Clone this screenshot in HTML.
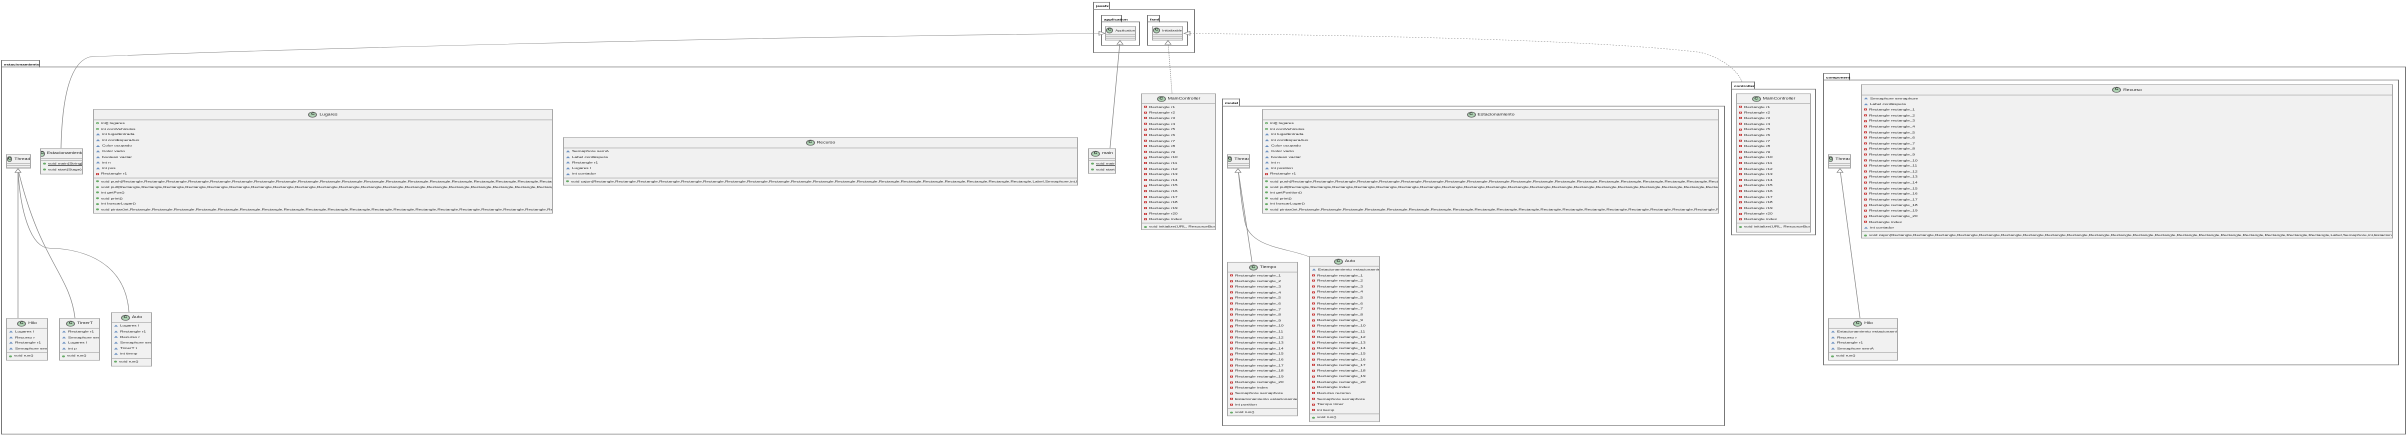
<!DOCTYPE html>
<html><head><meta charset="utf-8"><style>
html,body{margin:0;width:2407px;height:435px;background:#fff;overflow:hidden}
body{position:relative;font-family:"Liberation Sans",sans-serif}
#w{position:absolute;left:0;top:0;width:2407px;height:666px;transform:scaleY(0.6533);transform-origin:0 0}
.c{position:absolute;background:#f1f1f1;border:1px solid #a8a8a8;box-sizing:border-box;font-size:4.6px;color:#222;overflow:hidden}
.h{height:14px;display:flex;align-items:center;justify-content:center;border-bottom:1px solid #a8a8a8;font-size:5px;white-space:nowrap}
.h i{display:inline-block;width:7px;height:7px;border-radius:50%;background:#add1b2;border:0.6px solid #666;font:bold 5px "Liberation Sans",sans-serif;text-align:center;line-height:7px;margin-right:2px;font-style:normal;color:#222}
.s{border-bottom:1px solid #a8a8a8;padding:1px 2px 1px}
.s:last-child{border-bottom:none}
.s div{height:8.6px;line-height:8.6px;white-space:nowrap}
.e{height:2px;border-bottom:1px solid #a8a8a8}
b.a,b.p,b.g,b.o{display:inline-block;width:3px;height:3px;margin-right:2px;vertical-align:middle}
b.a{width:0;height:0;border-left:2px solid transparent;border-right:2px solid transparent;border-bottom:3px solid #6a8fc0}
b.p{border:0.6px solid #c83a3a;box-sizing:border-box}
b.g{background:#66aa66;border-radius:50%}
b.o{border:0.6px solid #66aa66;border-radius:50%;box-sizing:border-box}
.u{text-decoration:underline}
.pk{position:absolute;border:1.5px solid #777;box-sizing:border-box}
.tb{position:absolute;border:1px solid #777;border-bottom:none;box-sizing:border-box;font:bold 4.5px "Liberation Sans",sans-serif;padding:1px 2px;height:11px;line-height:9px;background:#fff}
</style></head><body><div id="w">

<div class="tb" style="left:1px;top:92px;width:39px">estacionamiento</div>
<div class="pk" style="left:1px;top:102px;width:2405px;height:563px"></div>
<div class="tb" style="left:1093px;top:3px;width:17px">javafx</div>
<div class="pk" style="left:1093px;top:14px;width:102px;height:67px"></div>
<div class="tb" style="left:1101px;top:23px;width:21px">application</div>
<div class="pk" style="left:1101px;top:33px;width:39px;height:37px"></div>
<div class="tb" style="left:1147px;top:23px;width:13px">fxml</div>
<div class="pk" style="left:1147px;top:33px;width:41px;height:37px"></div>
<div class="tb" style="left:1222px;top:151px;width:18px">model</div>
<div class="pk" style="left:1222px;top:162px;width:503px;height:490px"></div>
<div class="tb" style="left:1731px;top:125px;width:24px">controller</div>
<div class="pk" style="left:1731px;top:136px;width:85px;height:224px"></div>
<div class="tb" style="left:1823px;top:112px;width:27px">component</div>
<div class="pk" style="left:1823px;top:122px;width:576px;height:437px"></div>

<svg width="2407" height="670" style="position:absolute;left:0;top:0" fill="none">
<g stroke="#888" stroke-width="0.7">
<path d="M61 227 C62 150 70 95 90 87 C200 80 600 60 1102 51"/>
<path d="M1110 227 L1120 63"/>
<path d="M18 487 L18 259"/>
<path d="M75 487 C70 420 40 400 18 259"/>
<path d="M129 478 C125 390 70 380 50 380 C30 380 20 320 18 259"/>
<path d="M1252 401 L1238 259"/>
<path d="M1309 393 C1290 380 1250 380 1245 340 C1240 300 1240 280 1238 259"/>
<path d="M1860 487 L1840 259"/>
</g>
<g stroke="#888" stroke-width="0.7" stroke-dasharray="1.5,1.5">
<path d="M1172 143 L1168 63"/>
<path d="M1184 51 C1400 55 1600 62 1700 80 C1725 90 1738 110 1742 125"/>
</g>
<g fill="#fff" stroke="#777" stroke-width="0.7">
<path d="M1105 51 L1099 48 L1099 54 Z"/>
<path d="M1120 62 L1117 68 L1123 68 Z"/>
<path d="M1168 62 L1165 68 L1171 68 Z"/>
<path d="M1184 51 L1190 48 L1190 54 Z"/>
<path d="M18 258 L15 264 L21 264 Z"/>
<path d="M1238 258 L1235 264 L1241 264 Z"/>
<path d="M1840 258 L1837 264 L1843 264 Z"/>
</g>
</svg>

<div class="c" style="left:1105px;top:40px;width:31px;height:22px"><div class="h" style="height:11px;font-size:4px"><i>C</i>Application</div><div class="e"></div><div class="e"></div></div>
<div class="c" style="left:1152px;top:40px;width:31px;height:22px"><div class="h" style="height:11px;font-size:4px"><i>C</i>Initializable</div><div class="e"></div><div class="e"></div></div>

<div class="c" style="left:6px;top:236px;width:25px;height:22px"><div class="h" style="height:13px"><i>C</i>Thread</div><div class="e"></div><div class="e"></div></div>
<div class="c" style="left:40px;top:227px;width:43px;height:40px"><div class="h"><i>C</i>Estacionamiento</div><div class="e"></div><div class="s"><div><b class="g"></b><span class="u">void main(String[])</span></div><div><b class="g"></b>void start(Stage)</div></div></div>

<div class="c" style="left:93px;top:167px;width:460px;height:160px"><div class="h" style="height:15px"><i>C</i>Lugares</div>
<div class="s"><div><b class="o"></b>int[] lugares</div><div><b class="o"></b>int contVehiculos</div><div><b class="a"></b>int lugarEntrada</div><div><b class="a"></b>int contEsperaAux</div><div><b class="a"></b>Color ocupado</div><div><b class="a"></b>Color vacio</div><div><b class="a"></b>boolean vaciar</div><div><b class="a"></b>int n</div><div><b class="a"></b>int pos</div><div><b class="p"></b>Rectangle r1</div></div>
<div class="s"><div><b class="g"></b>void push(Rectangle,Rectangle,Rectangle,Rectangle,Rectangle,Rectangle,Rectangle,Rectangle,Rectangle,Rectangle,Rectangle,Rectangle,Rectangle,Rectangle,Rectangle,Rectangle,Rectangle,Rectangle,Rectangle,Rectangle)</div><div><b class="g"></b>void pull(Rectangle,Rectangle,Rectangle,Rectangle,Rectangle,Rectangle,Rectangle,Rectangle,Rectangle,Rectangle,Rectangle,Rectangle,Rectangle,Rectangle,Rectangle,Rectangle,Rectangle,Rectangle,Rectangle,Rectangle,int)</div><div><b class="g"></b>int getPos()</div><div><b class="g"></b>void print()</div><div><b class="g"></b>int buscarLugar()</div><div><b class="g"></b>void pintar(int,Rectangle,Rectangle,Rectangle,Rectangle,Rectangle,Rectangle,Rectangle,Rectangle,Rectangle,Rectangle,Rectangle,Rectangle,Rectangle,Rectangle,Rectangle,Rectangle,Rectangle,Rectangle,Rectangle,Rectangle,Color)</div></div></div>

<div class="c" style="left:563px;top:210px;width:515px;height:74px"><div class="h" style="height:15px"><i>C</i>Recurso</div>
<div class="s"><div><b class="a"></b>Semaphore semA</div><div><b class="a"></b>Label contEspera</div><div><b class="a"></b>Rectangle r1</div><div><b class="a"></b>Lugares l</div><div><b class="a"></b>int contador</div></div>
<div class="s"><div><b class="g"></b>void cajon(Rectangle,Rectangle,Rectangle,Rectangle,Rectangle,Rectangle,Rectangle,Rectangle,Rectangle,Rectangle,Rectangle,Rectangle,Rectangle,Rectangle,Rectangle,Rectangle,Rectangle,Rectangle,Rectangle,Rectangle,Label,Semaphore,int,Lugares)</div></div></div>

<div class="c" style="left:1088px;top:227px;width:28px;height:39px"><div class="h"><i>C</i>main</div><div class="e"></div><div class="s"><div><b class="g"></b><span class="u">void main(String[])</span></div><div><b class="g"></b>void start(Stage)</div></div></div>

<div class="c" style="left:1141px;top:143px;width:75px;height:209px"><div class="h"><i>C</i>MainController</div>
<div class="s"><div><b class="p"></b>Rectangle r1</div><div><b class="p"></b>Rectangle r2</div><div><b class="p"></b>Rectangle r3</div><div><b class="p"></b>Rectangle r4</div><div><b class="p"></b>Rectangle r5</div><div><b class="p"></b>Rectangle r6</div><div><b class="p"></b>Rectangle r7</div><div><b class="p"></b>Rectangle r8</div><div><b class="p"></b>Rectangle r9</div><div><b class="p"></b>Rectangle r10</div><div><b class="p"></b>Rectangle r11</div><div><b class="p"></b>Rectangle r12</div><div><b class="p"></b>Rectangle r13</div><div><b class="p"></b>Rectangle r14</div><div><b class="p"></b>Rectangle r15</div><div><b class="p"></b>Rectangle r16</div><div><b class="p"></b>Rectangle r17</div><div><b class="p"></b>Rectangle r18</div><div><b class="p"></b>Rectangle r19</div><div><b class="p"></b>Rectangle r20</div><div><b class="p"></b>Rectangle index</div></div>
<div class="s"><div><b class="g"></b>void initialize(URL, ResourceBundle)</div></div></div>

<div class="c" style="left:6px;top:487px;width:42px;height:65px"><div class="h"><i>C</i>Hilo</div>
<div class="s"><div><b class="a"></b>Lugares l</div><div><b class="a"></b>Recurso r</div><div><b class="a"></b>Rectangle r1</div><div><b class="a"></b>Semaphore semA</div></div><div class="s"><div><b class="g"></b>void run()</div></div></div>
<div class="c" style="left:59px;top:487px;width:41px;height:65px"><div class="h"><i>C</i>TimerT</div>
<div class="s"><div><b class="a"></b>Rectangle r1</div><div><b class="a"></b>Semaphore semA</div><div><b class="a"></b>Lugares l</div><div><b class="a"></b>int p</div></div><div class="s"><div><b class="g"></b>void run()</div></div></div>
<div class="c" style="left:111px;top:478px;width:41px;height:83px"><div class="h"><i>C</i>Auto</div>
<div class="s"><div><b class="a"></b>Lugares l</div><div><b class="a"></b>Rectangle r1</div><div><b class="a"></b>Recurso r</div><div><b class="a"></b>Semaphore semA</div><div><b class="a"></b>TimerT t</div><div><b class="a"></b>int tiemp</div></div><div class="s"><div><b class="g"></b>void run()</div></div></div>

<div class="c" style="left:1227px;top:236px;width:23px;height:22px"><div class="h" style="height:13px"><i>C</i>Thread</div><div class="e"></div><div class="e"></div></div>
<div class="c" style="left:1262px;top:167px;width:457px;height:160px"><div class="h" style="height:15px"><i>C</i>Estacionamiento</div>
<div class="s"><div><b class="o"></b>int[] lugares</div><div><b class="o"></b>int contVehiculos</div><div><b class="a"></b>int lugarEntrada</div><div><b class="a"></b>int contEsperaAux</div><div><b class="a"></b>Color ocupado</div><div><b class="a"></b>Color vacio</div><div><b class="a"></b>boolean vaciar</div><div><b class="a"></b>int n</div><div><b class="a"></b>int position</div><div><b class="p"></b>Rectangle r1</div></div>
<div class="s"><div><b class="g"></b>void push(Rectangle,Rectangle,Rectangle,Rectangle,Rectangle,Rectangle,Rectangle,Rectangle,Rectangle,Rectangle,Rectangle,Rectangle,Rectangle,Rectangle,Rectangle,Rectangle,Rectangle,Rectangle,Rectangle,Rectangle)</div><div><b class="g"></b>void pull(Rectangle,Rectangle,Rectangle,Rectangle,Rectangle,Rectangle,Rectangle,Rectangle,Rectangle,Rectangle,Rectangle,Rectangle,Rectangle,Rectangle,Rectangle,Rectangle,Rectangle,Rectangle,Rectangle,Rectangle,int)</div><div><b class="g"></b>int getPosition()</div><div><b class="g"></b>void print()</div><div><b class="g"></b>int buscarLugar()</div><div><b class="g"></b>void pintar(int,Rectangle,Rectangle,Rectangle,Rectangle,Rectangle,Rectangle,Rectangle,Rectangle,Rectangle,Rectangle,Rectangle,Rectangle,Rectangle,Rectangle,Rectangle,Rectangle,Rectangle,Rectangle,Rectangle,Rectangle,Color)</div></div></div>

<div class="c" style="left:1227px;top:401px;width:71px;height:236px"><div class="h"><i>C</i>Tiempo</div>
<div class="s"><div><b class="p"></b>Rectangle rectangle_1</div><div><b class="p"></b>Rectangle rectangle_2</div><div><b class="p"></b>Rectangle rectangle_3</div><div><b class="p"></b>Rectangle rectangle_4</div><div><b class="p"></b>Rectangle rectangle_5</div><div><b class="p"></b>Rectangle rectangle_6</div><div><b class="p"></b>Rectangle rectangle_7</div><div><b class="p"></b>Rectangle rectangle_8</div><div><b class="p"></b>Rectangle rectangle_9</div><div><b class="p"></b>Rectangle rectangle_10</div><div><b class="p"></b>Rectangle rectangle_11</div><div><b class="p"></b>Rectangle rectangle_12</div><div><b class="p"></b>Rectangle rectangle_13</div><div><b class="p"></b>Rectangle rectangle_14</div><div><b class="p"></b>Rectangle rectangle_15</div><div><b class="p"></b>Rectangle rectangle_16</div><div><b class="p"></b>Rectangle rectangle_17</div><div><b class="p"></b>Rectangle rectangle_18</div><div><b class="p"></b>Rectangle rectangle_19</div><div><b class="p"></b>Rectangle rectangle_20</div><div><b class="p"></b>Rectangle index</div><div><b class="p"></b>Semaphore semaphore</div><div><b class="p"></b>Estacionamiento estacionamiento</div><div><b class="p"></b>int position</div></div>
<div class="s"><div><b class="g"></b>void run()</div></div></div>

<div class="c" style="left:1309px;top:392px;width:71px;height:254px"><div class="h"><i>C</i>Auto</div>
<div class="s"><div><b class="a"></b>Estacionamiento estacionamiento</div><div><b class="p"></b>Rectangle rectangle_1</div><div><b class="p"></b>Rectangle rectangle_2</div><div><b class="p"></b>Rectangle rectangle_3</div><div><b class="p"></b>Rectangle rectangle_4</div><div><b class="p"></b>Rectangle rectangle_5</div><div><b class="p"></b>Rectangle rectangle_6</div><div><b class="p"></b>Rectangle rectangle_7</div><div><b class="p"></b>Rectangle rectangle_8</div><div><b class="p"></b>Rectangle rectangle_9</div><div><b class="p"></b>Rectangle rectangle_10</div><div><b class="p"></b>Rectangle rectangle_11</div><div><b class="p"></b>Rectangle rectangle_12</div><div><b class="p"></b>Rectangle rectangle_13</div><div><b class="p"></b>Rectangle rectangle_14</div><div><b class="p"></b>Rectangle rectangle_15</div><div><b class="p"></b>Rectangle rectangle_16</div><div><b class="p"></b>Rectangle rectangle_17</div><div><b class="p"></b>Rectangle rectangle_18</div><div><b class="p"></b>Rectangle rectangle_19</div><div><b class="p"></b>Rectangle rectangle_20</div><div><b class="p"></b>Rectangle index</div><div><b class="p"></b>Recurso recurso</div><div><b class="p"></b>Semaphore semaphore</div><div><b class="p"></b>Tiempo timer</div><div><b class="p"></b>int tiemp</div></div>
<div class="s"><div><b class="g"></b>void run()</div></div></div>

<div class="c" style="left:1736px;top:143px;width:75px;height:213px"><div class="h"><i>C</i>MainController</div>
<div class="s"><div><b class="p"></b>Rectangle r1</div><div><b class="p"></b>Rectangle r2</div><div><b class="p"></b>Rectangle r3</div><div><b class="p"></b>Rectangle r4</div><div><b class="p"></b>Rectangle r5</div><div><b class="p"></b>Rectangle r6</div><div><b class="p"></b>Rectangle r7</div><div><b class="p"></b>Rectangle r8</div><div><b class="p"></b>Rectangle r9</div><div><b class="p"></b>Rectangle r10</div><div><b class="p"></b>Rectangle r11</div><div><b class="p"></b>Rectangle r12</div><div><b class="p"></b>Rectangle r13</div><div><b class="p"></b>Rectangle r14</div><div><b class="p"></b>Rectangle r15</div><div><b class="p"></b>Rectangle r16</div><div><b class="p"></b>Rectangle r17</div><div><b class="p"></b>Rectangle r18</div><div><b class="p"></b>Rectangle r19</div><div><b class="p"></b>Rectangle r20</div><div><b class="p"></b>Rectangle index</div></div>
<div class="s"><div><b class="g"></b>void initialize(URL, ResourceBundle)</div></div></div>

<div class="c" style="left:1828px;top:236px;width:23px;height:22px"><div class="h" style="height:13px"><i>C</i>Thread</div><div class="e"></div><div class="e"></div></div>
<div class="c" style="left:1861px;top:129px;width:532px;height:236px"><div class="h" style="height:15px"><i>C</i>Recurso</div>
<div class="s"><div><b class="a"></b>Semaphore semaphore</div><div><b class="a"></b>Label contEspera</div><div><b class="p"></b>Rectangle rectangle_1</div><div><b class="p"></b>Rectangle rectangle_2</div><div><b class="p"></b>Rectangle rectangle_3</div><div><b class="p"></b>Rectangle rectangle_4</div><div><b class="p"></b>Rectangle rectangle_5</div><div><b class="p"></b>Rectangle rectangle_6</div><div><b class="p"></b>Rectangle rectangle_7</div><div><b class="p"></b>Rectangle rectangle_8</div><div><b class="p"></b>Rectangle rectangle_9</div><div><b class="p"></b>Rectangle rectangle_10</div><div><b class="p"></b>Rectangle rectangle_11</div><div><b class="p"></b>Rectangle rectangle_12</div><div><b class="p"></b>Rectangle rectangle_13</div><div><b class="p"></b>Rectangle rectangle_14</div><div><b class="p"></b>Rectangle rectangle_15</div><div><b class="p"></b>Rectangle rectangle_16</div><div><b class="p"></b>Rectangle rectangle_17</div><div><b class="p"></b>Rectangle rectangle_18</div><div><b class="p"></b>Rectangle rectangle_19</div><div><b class="p"></b>Rectangle rectangle_20</div><div><b class="p"></b>Rectangle index</div><div><b class="a"></b>int contador</div></div>
<div class="s"><div><b class="g"></b>void cajon(Rectangle,Rectangle,Rectangle,Rectangle,Rectangle,Rectangle,Rectangle,Rectangle,Rectangle,Rectangle,Rectangle,Rectangle,Rectangle,Rectangle,Rectangle,Rectangle,Rectangle,Rectangle,Rectangle,Rectangle,Label,Semaphore,int,Estacionamiento)</div></div></div>

<div class="c" style="left:1828px;top:487px;width:70px;height:65px"><div class="h"><i>C</i>Hilo</div>
<div class="s"><div><b class="a"></b>Estacionamiento estacionamiento</div><div><b class="a"></b>Recurso r</div><div><b class="a"></b>Rectangle r1</div><div><b class="a"></b>Semaphore semA</div></div><div class="s"><div><b class="g"></b>void run()</div></div></div>

</div></body></html>
